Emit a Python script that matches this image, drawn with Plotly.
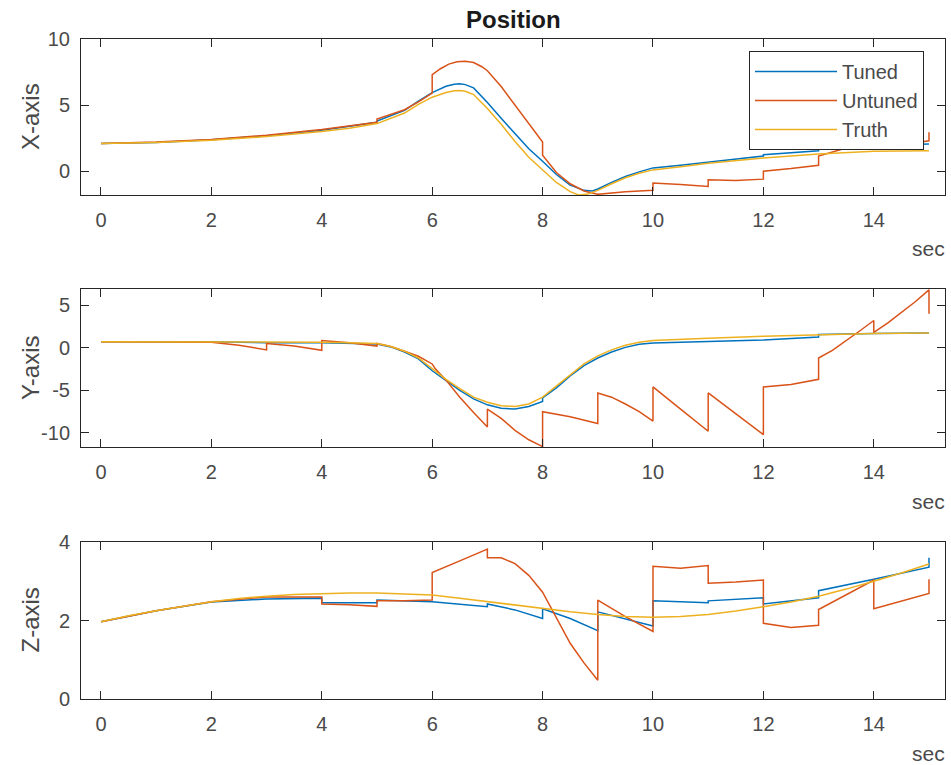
import plotly.graph_objects as go

# ---------------- data ----------------
# X-axis position
t_x_truth = [0, 1, 2, 3, 4, 4.5, 5, 5.5, 5.75, 6, 6.25, 6.4, 6.5, 6.6, 6.75, 7, 7.25, 7.5, 7.75, 8,
             8.25, 8.5, 8.65, 8.8, 9, 9.25, 9.5, 9.75, 10, 10.5, 11, 12, 13, 14, 15]
x_truth = [2.10, 2.18, 2.35, 2.62, 3.00, 3.25, 3.60, 4.40, 5.05, 5.60, 5.95, 6.08, 6.10, 6.05, 5.80,
           4.75, 3.55, 2.25, 1.05, 0.10, -0.85, -1.55, -1.80, -1.75, -1.45, -0.95, -0.50, -0.15,
           0.10, 0.33, 0.60, 1.00, 1.30, 1.50, 1.55]

t_x_tuned = [0, 1, 2, 3, 4, 4.5, 5, 5, 5.5, 5.75, 6, 6.25, 6.4, 6.5, 6.6, 6.75, 7, 7.25, 7.5, 7.75, 8,
             8.25, 8.5, 8.75, 8.9, 9, 9.25, 9.5, 9.75, 10, 10.5, 11, 12, 12, 13, 13, 14, 15]
x_tuned = [2.10, 2.18, 2.38, 2.68, 3.10, 3.40, 3.70, 3.80, 4.60, 5.30, 5.95, 6.42, 6.58, 6.62, 6.55,
           6.30, 5.20, 4.00, 2.85, 1.70, 0.75, -0.25, -1.05, -1.45, -1.50, -1.35, -0.85, -0.40,
           -0.05, 0.25, 0.45, 0.70, 1.15, 1.25, 1.55, 1.70, 1.95, 2.05]

t_x_untuned = [0, 1, 2, 3, 4, 4.5, 5, 5, 5.5, 5.75, 6, 6, 6.15, 6.3, 6.45, 6.6, 6.75, 6.9, 7, 7.25,
               7.5, 7.75, 8, 8, 8.25, 8.5, 8.75, 9, 9.5, 10, 10, 10.5, 11, 11, 11.5, 12, 12, 12.5,
               13, 13, 13.5, 14, 14, 14.5, 15, 15]
x_untuned = [2.10, 2.20, 2.40, 2.72, 3.15, 3.45, 3.70, 3.95, 4.65, 5.25, 5.90, 7.30, 7.75, 8.10,
             8.28, 8.32, 8.22, 7.90, 7.60, 6.40, 5.00, 3.60, 2.20, 1.20, -0.10, -0.95, -1.50, -1.75,
             -1.55, -1.45, -0.90, -1.00, -1.15, -0.65, -0.70, -0.60, 0.00, 0.20, 0.45, 1.15, 1.75,
             2.20, 1.65, 2.00, 2.30, 2.95]

# Y-axis position
t_y_truth = [0, 2, 3, 4, 4.5, 5, 5.25, 5.5, 5.75, 6, 6.25, 6.5, 6.75, 7, 7.25, 7.5, 7.75, 8, 8.25,
             8.5, 8.75, 9, 9.25, 9.5, 9.75, 10, 10.5, 11, 12, 13, 14, 15]
y_truth = [0.70, 0.70, 0.68, 0.65, 0.60, 0.50, 0.15, -0.40, -1.20, -2.50, -3.70, -4.80, -5.80, -6.40,
           -6.80, -6.90, -6.60, -5.80, -4.50, -3.10, -1.90, -0.95, -0.25, 0.30, 0.65, 0.85, 1.00,
           1.12, 1.35, 1.55, 1.68, 1.72]

t_y_tuned = [0, 2, 3, 4, 5, 5.25, 5.5, 5.75, 6, 6.25, 6.5, 6.75, 7, 7.25, 7.5, 7.75, 8, 8, 8.25, 8.5,
             8.75, 9, 9.25, 9.5, 9.75, 10, 11, 12, 13, 13, 14, 15]
y_tuned = [0.70, 0.70, 0.60, 0.60, 0.45, 0.10, -0.50, -1.30, -2.70, -3.90, -5.00, -6.00, -6.70, -7.10,
           -7.20, -6.90, -6.30, -5.90, -4.70, -3.30, -2.10, -1.20, -0.50, 0.05, 0.40, 0.55, 0.70,
           0.90, 1.25, 1.55, 1.68, 1.72]

t_y_untuned = [0, 1, 2, 2.5, 3, 3, 3.5, 4, 4, 4.5, 5, 5, 5.25, 5.5, 5.75, 6, 6.05, 6.25, 6.5, 6.75, 7,
               7, 7.25, 7.5, 7.75, 8, 8, 8.5, 9, 9, 9.25, 9.5, 9.75, 10, 10, 10.5, 11, 11, 11.5, 12,
               12, 12.5, 13, 13, 13.25, 13.5, 13.75, 14, 14, 14.25, 14.5, 14.75, 15, 15]
y_untuned = [0.70, 0.70, 0.65, 0.30, -0.25, 0.50, 0.20, -0.30, 0.85, 0.60, 0.20, 0.50, 0.15, -0.40,
             -1.00, -1.90, -2.40, -3.80, -5.80, -7.60, -9.30, -7.20, -8.30, -9.70, -10.80, -11.60,
             -7.50, -8.10, -8.90, -5.30, -5.80, -6.60, -7.50, -8.60, -4.60, -7.20, -9.80, -5.30,
             -7.80, -10.20, -4.60, -4.30, -3.70, -1.20, -0.30, 0.80, 2.00, 3.20, 1.80, 2.90, 4.10,
             5.40, 6.80, 4.00]

# Z-axis position
t_z_truth = [0, 0.5, 1, 1.5, 2, 2.5, 3, 3.5, 4, 4.5, 5, 5.5, 6, 6.5, 7, 7.5, 8, 8.5, 9, 9.5, 10,
             10.5, 11, 11.5, 12, 12.5, 13, 13.5, 14, 14.5, 15]
z_truth = [1.97, 2.12, 2.25, 2.37, 2.48, 2.56, 2.62, 2.66, 2.68, 2.70, 2.70, 2.68, 2.65, 2.57, 2.48,
           2.40, 2.31, 2.22, 2.15, 2.10, 2.08, 2.10, 2.15, 2.24, 2.35, 2.47, 2.62, 2.80, 3.00, 3.21,
           3.44]

t_z_tuned = [0, 1, 2, 3, 4, 4, 5, 5, 6, 7, 7, 7.5, 8, 8, 8.5, 9, 9, 9.5, 10, 10, 11, 11, 12, 12, 13,
             13, 14, 15, 15]
z_tuned = [1.97, 2.25, 2.47, 2.55, 2.57, 2.45, 2.45, 2.52, 2.48, 2.35, 2.42, 2.27, 2.05, 2.30, 2.05,
           1.74, 2.22, 2.05, 1.86, 2.50, 2.45, 2.50, 2.58, 2.42, 2.58, 2.76, 3.05, 3.36, 3.60]

t_z_untuned = [0, 1, 2, 3, 4, 4, 4.5, 5, 5, 5.5, 6, 6, 6.5, 7, 7, 7.25, 7.5, 7.75, 8, 8.25, 8.5, 8.75,
               9, 9, 9.5, 10, 10, 10.5, 11, 11, 11.5, 12, 12, 12.5, 13, 13, 13.5, 14, 14, 14.5, 15, 15]
z_untuned = [1.97, 2.25, 2.48, 2.60, 2.60, 2.42, 2.40, 2.36, 2.50, 2.50, 2.52, 3.22, 3.52, 3.82, 3.60,
             3.60, 3.45, 3.15, 2.72, 2.05, 1.42, 0.92, 0.48, 2.52, 2.10, 1.72, 3.38, 3.33, 3.40, 2.95,
             2.98, 3.03, 1.93, 1.82, 1.88, 2.28, 2.65, 3.03, 2.30, 2.50, 2.69, 3.05]

series_names = ["Tuned", "Untuned", "Truth"]
colors = ["#0072BD", "#D95319", "#EDB120"]
x_ticks = [0, 2, 4, 6, 8, 10, 12, 14]
y_labels = ["X-axis", "Y-axis", "Z-axis"]
y_ranges = [[-1.8, 10], [-11.65, 6.9], [0, 4]]
y_ticks = [[0, 5, 10], [-10, -5, 0, 5], [0, 2, 4]]

panels = [
    [(t_x_tuned, x_tuned), (t_x_untuned, x_untuned), (t_x_truth, x_truth)],
    [(t_y_tuned, y_tuned), (t_y_untuned, y_untuned), (t_y_truth, y_truth)],
    [(t_z_tuned, z_tuned), (t_z_untuned, z_untuned), (t_z_truth, z_truth)],
]

# ---------------- figure ----------------
W, H = 951, 765
FONT = "Liberation Sans, Arial, Helvetica, sans-serif"
AX = "#262626"
TXT = "#4a4a4a"
TICK_SIZE = 20
YLABEL_SIZE = 24
XLABEL_SIZE = 21
TITLE_SIZE = 24

fig = go.Figure()

# pixel boxes of the three axes (top, bottom)
boxes = [(39, 195), (289, 447), (542, 699)]
x_left, x_right = 81, 945

for i, panel in enumerate(panels):
    suffix = "" if i == 0 else str(i + 1)
    for j, (tt, vv) in enumerate(panel):
        fig.add_trace(go.Scatter(
            x=tt, y=vv, mode="lines", name=series_names[j],
            line=dict(color=colors[j], width=1.5),
            xaxis="x" + suffix, yaxis="y" + suffix,
            showlegend=(i == 0), legendgroup=series_names[j],
        ))

layout = dict(
    width=W, height=H,
    margin=dict(l=0, r=0, t=0, b=0, autoexpand=False),
    paper_bgcolor="white", plot_bgcolor="white",
    font=dict(family=FONT, size=TICK_SIZE, color=TXT),
    showlegend=True,
    legend=dict(
        x=924 / W, y=1 - 51 / H, xanchor="right", yanchor="top",
        bgcolor="white", bordercolor=AX, borderwidth=1,
        font=dict(family=FONT, size=TICK_SIZE, color=TXT),
        itemwidth=82, tracegroupgap=0,
    ),
)

annotations = []
for i in range(3):
    suffix = "" if i == 0 else str(i + 1)
    top, bot = boxes[i]
    layout["xaxis" + suffix] = dict(
        domain=[x_left / W, x_right / W], anchor="y" + suffix,
        range=[-0.362, 15.29], tickvals=x_ticks, ticktext=[str(v) for v in x_ticks],
        ticks="inside", ticklen=8, tickcolor=AX, tickwidth=1,
        showline=True, linecolor=AX, linewidth=1, mirror="ticks",
        showgrid=False, zeroline=False, automargin=False,
        tickfont=dict(family=FONT, size=TICK_SIZE, color=TXT),
        ticklabelstandoff=7,
    )
    layout["yaxis" + suffix] = dict(
        domain=[1 - bot / H, 1 - top / H], anchor="x" + suffix,
        range=y_ranges[i], tickvals=y_ticks[i], ticktext=[str(v) for v in y_ticks[i]],
        ticks="inside", ticklen=8, tickcolor=AX, tickwidth=1,
        showline=True, linecolor=AX, linewidth=1, mirror="ticks",
        showgrid=False, zeroline=False, automargin=False,
        tickfont=dict(family=FONT, size=TICK_SIZE, color=TXT),
        ticklabelstandoff=6,
    )
    annotations.append(dict(
        text=y_labels[i], textangle=-90, x=30 / W, y=1 - (top + bot) / 2 / H,
        xref="paper", yref="paper", xanchor="center", yanchor="middle",
        showarrow=False, font=dict(family=FONT, size=YLABEL_SIZE, color=TXT),
    ))
    annotations.append(dict(
        text="sec", x=947 / W, y=1 - (bot + 54) / H,
        xref="paper", yref="paper", xanchor="right", yanchor="middle",
        showarrow=False, font=dict(family=FONT, size=XLABEL_SIZE, color=TXT),
    ))

annotations.append(dict(
    text="<b>Position</b>", x=(x_left + x_right) / 2 / W, y=1 - 19 / H,
    xref="paper", yref="paper", xanchor="center", yanchor="middle",
    showarrow=False, font=dict(family=FONT, size=TITLE_SIZE, color="#1a1a1a"),
))
layout["annotations"] = annotations

fig.update_layout(**layout)
fig.write_html("out.html", config={"displayModeBar": False},
               post_script="document.body.style.margin='0px';")
